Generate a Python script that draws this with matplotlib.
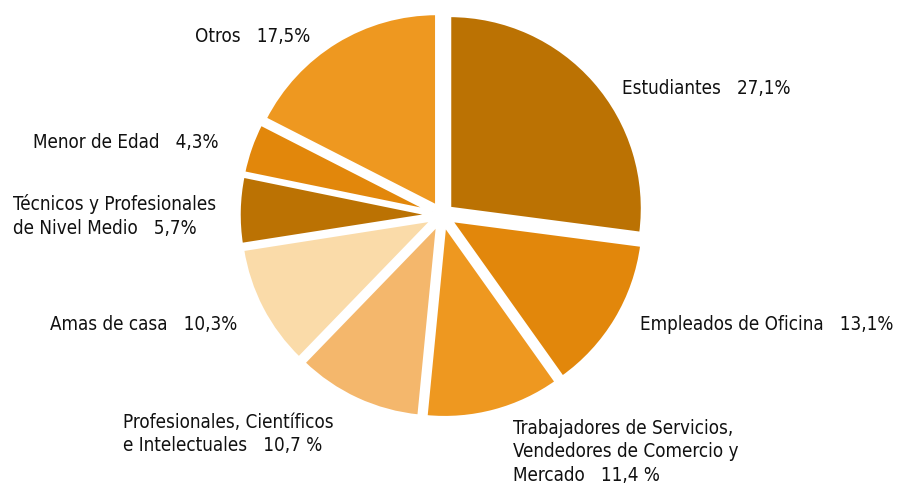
import matplotlib
matplotlib.use("Agg")
import matplotlib.pyplot as plt
from matplotlib import font_manager

categories = ["Estudiantes", "Empleados de Oficina",
              "Trabajadores de Servicios,\nVendedores de Comercio y\nMercado",
              "Profesionales, Científicos\ne Intelectuales", "Amas de casa",
              "Técnicos y Profesionales\nde Nivel Medio", "Menor de Edad", "Otros"]
values = [27.1, 13.1, 11.4, 10.7, 10.3, 5.7, 4.3, 17.5]
value_labels = ["27,1%", "13,1%", "11,4 %", "10,7 %", "10,3%", "5,7%", "4,3%", "17,5%"]
colors = ["#BB7203", "#E2870B", "#EE9820", "#F4B76C", "#FADBA9", "#BB7203", "#E2870B", "#EE9820"]

names = {f.name for f in font_manager.fontManager.ttflist}
fam = "Liberation Sans Narrow" if "Liberation Sans Narrow" in names else "DejaVu Sans"

W, H = 899, 485
fig = plt.figure(figsize=(W/100, H/100), dpi=100)
ax = fig.add_axes([0, 0, 1, 1])

ax.pie(values, colors=colors, startangle=90, counterclock=False,
       center=(442, H - 216), radius=193, explode=[10]*len(values),
       wedgeprops=dict(edgecolor="white", linewidth=2.5))
ax.set_xlim(0, W)
ax.set_ylim(0, H)
ax.set_aspect("equal")
ax.axis("off")

# label positions (left x, center y in pixels from top)
pos = [(622, 88), (640, 325), (513, 452), (123, 434), (50, 325), (13, 216), (33, 142), (195, 37)]
for cat, vl, (x, y) in zip(categories, value_labels, pos):
    txt = cat + "   " + vl
    ax.text(x, H - y, txt, ha="left", va="center", fontsize=13.5, family=fam,
            stretch="condensed", linespacing=1.3, color="#111111")

fig.savefig("out.png", dpi=100)
